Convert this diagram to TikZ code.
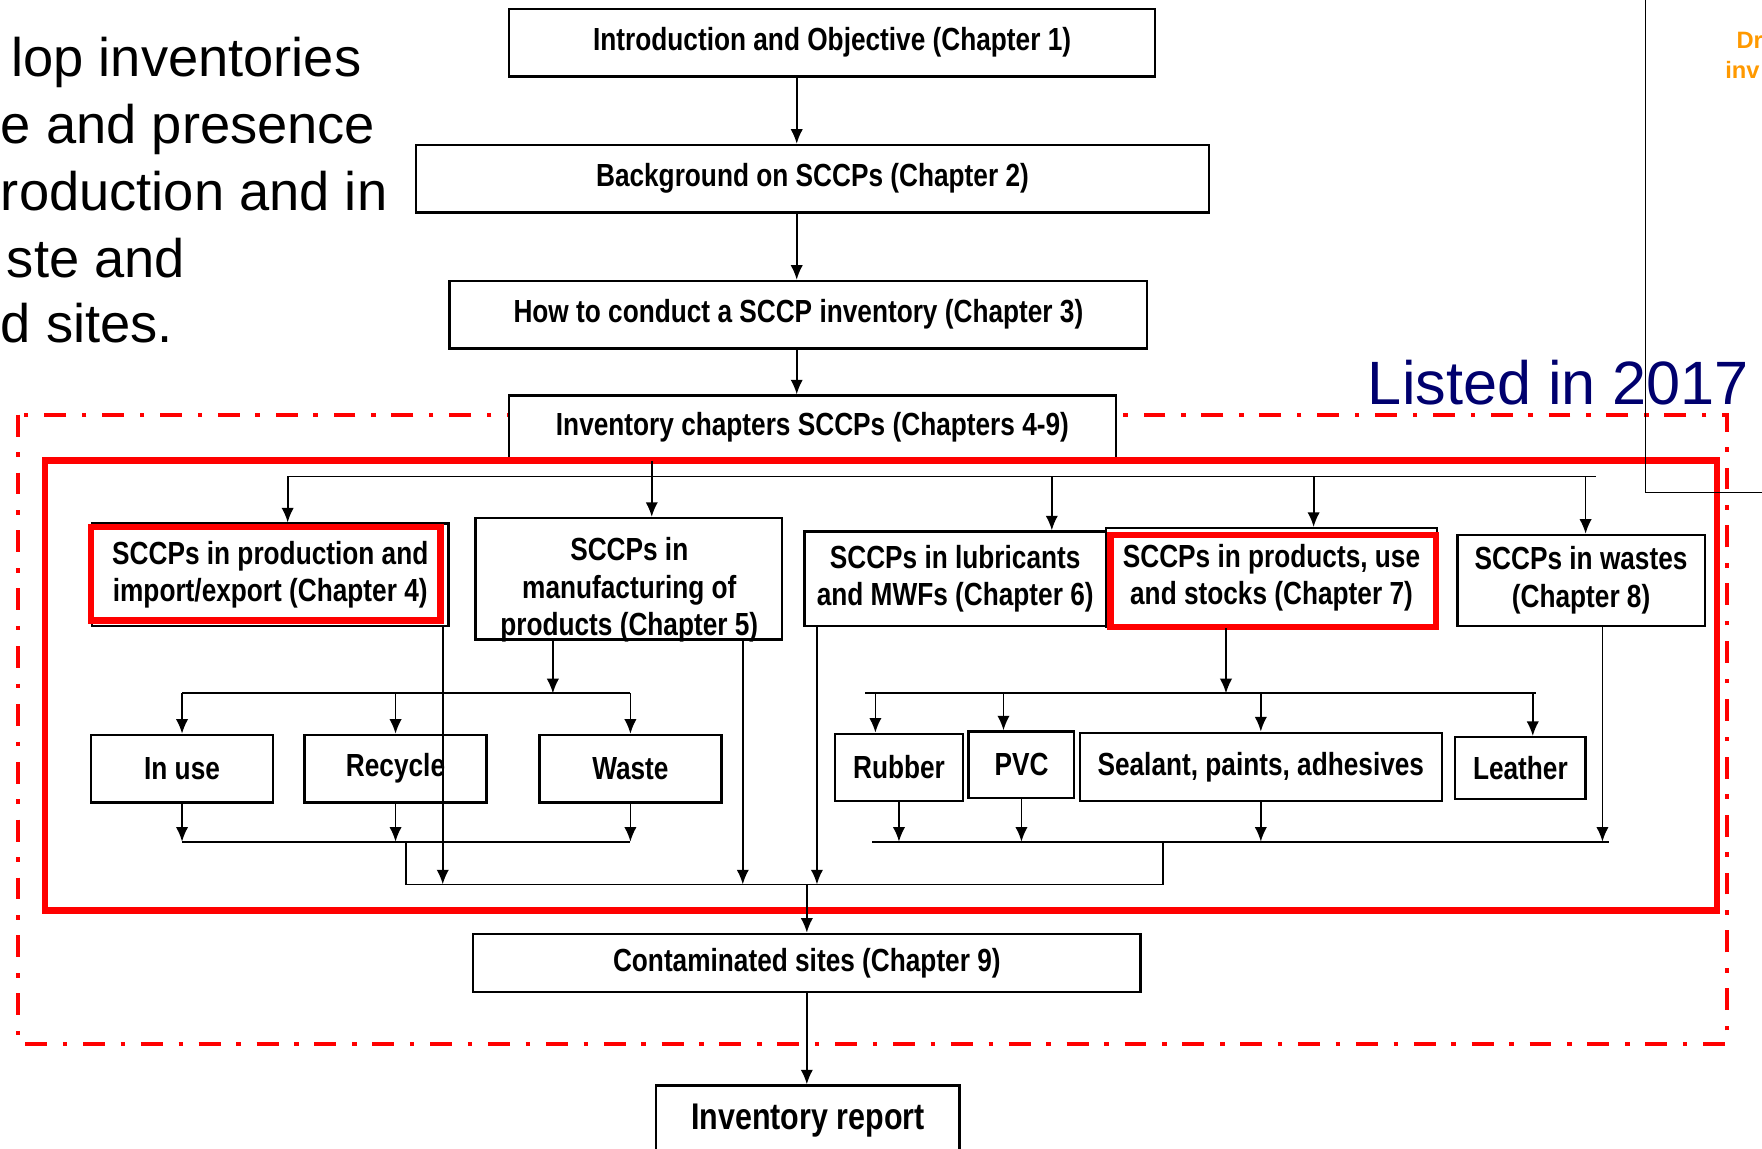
\documentclass[tikz,border=0pt]{standalone}
\usepackage{fontspec}
\setmainfont{Liberation Sans}
\newfontfamily\narrowfont[FakeStretch=0.82]{Liberation Sans}
\usetikzlibrary{arrows.meta}
\definecolor{listblue}{RGB}{0,0,110}
\definecolor{draftorange}{RGB}{255,153,0}
\tikzset{
  box/.style={draw,fill=white,line width=1.2pt,inner sep=0pt,align=center,
    font={\narrowfont\bfseries\fontsize{16.2}{19}\selectfont}},
  leaf/.style={box,minimum height=1.2cm},
  arr/.style={-{Latex[length=2.6mm,width=2.2mm]},line width=0.9pt},
  bus/.style={line width=0.9pt},
  hilite/.style={draw=red,line width=3.4pt},
  bigtxt/.style={inner sep=0pt,font={\fontsize{27.5}{33}\selectfont}}
}
\begin{document}
\begin{tikzpicture}[x=0.02cm,y=-0.02cm]
\useasboundingbox (0,0) rectangle (1568,1022);
\clip (0,0) rectangle (1568,1022);
% slide text, cut at the frame
\node[bigtxt,anchor=base east] (goal1) at (322,68) {lop inventories};
\node[bigtxt,anchor=base west] (goal2) at (0.5,128) {e and presence};
\node[bigtxt,anchor=base west] (goal3) at (0.5,187) {roduction and in};
\node[bigtxt,anchor=base east] (goal4) at (165,247) {ste and};
\node[bigtxt,anchor=base west] (goal5) at (0.5,305) {d sites.};
\node[anchor=base west,inner sep=0pt,text=listblue,font={\fontsize{31}{37}\selectfont}] (listed) at (1217,360) {Listed in 2017};
\node[anchor=base west,inner sep=0pt,text=draftorange,font={\bfseries\fontsize{12}{14}\selectfont}] (draft1) at (1545,43) {Dr};
\node[anchor=base west,inner sep=0pt,text=draftorange,font={\bfseries\fontsize{12}{14}\selectfont}] (draft2) at (1535,70) {inv};

\draw[red,line width=2pt,dash pattern=on 0.39cm off 0.28cm on 0.08cm off 0.28cm] (16,369) rectangle (1537,929);

\node[box,minimum width=11.5cm,minimum height=1.2cm] (intro) at (740.5,38) {Introduction and Objective (Chapter 1)};
\node[box,minimum width=14.12cm,minimum height=1.2cm] (backgr) at (723,159) {Background on SCCPs (Chapter 2)};
\node[box,minimum width=12.42cm,minimum height=1.2cm] (howto) at (710.5,280) {How to conduct a SCCP inventory (Chapter 3)};
\node[box,minimum width=10.8cm,minimum height=1.14cm] (invch) at (723,380.5) {Inventory chapters SCCPs (Chapters 4-9)};
\coordinate (spine) at (709,0);
\draw[arr] (spine |- intro.south) -- (spine |- backgr.north);
\draw[arr] (spine |- backgr.south) -- (spine |- howto.north);
\draw[arr] (spine |- howto.south) -- (spine |- invch.north);

\draw[red,line width=3.4pt] (40,410) rectangle (1528,810);
\draw[line width=0.6pt] (1464,-10) rectangle (1600,438);

\node[box,minimum width=6.34cm,minimum height=1.82cm] (ch4) at (240.5,511.5) {SCCPs in production and\\import/export (Chapter 4)};
\draw[hilite] (81,469) rectangle (392,552);
\node[box,minimum width=5.46cm,minimum height=2.16cm] (ch5) at (559.5,515) {};
\node[inner sep=0pt,align=center,font={\narrowfont\bfseries\fontsize{16.2}{19}\selectfont}] (ch5txt) at (560,525) {SCCPs in\\manufacturing of\\products (Chapter 5)};
\node[box,minimum width=5.36cm,minimum height=1.68cm] (ch6) at (850,515) {SCCPs in lubricants\\and MWFs (Chapter 6)};
\node[box,minimum width=5.9cm,minimum height=1.76cm] (ch7) at (1131.5,514) {SCCPs in products, use\\and stocks (Chapter 7)};
\draw[hilite] (988,476) rectangle (1278,558);
\node[box,minimum width=4.4cm,minimum height=1.62cm] (ch8) at (1407,516.5) {SCCPs in wastes\\(Chapter 8)};

\node[leaf,minimum width=3.24cm] (inuse) at (162,684) {In use};
\node[leaf,minimum width=3.24cm] (recycle) at (352,684) {Recycle};
\node[leaf,minimum width=3.24cm] (waste) at (561,684) {Waste};
\node[leaf,minimum width=2.28cm] (rubber) at (800,683) {Rubber};
\node[leaf,minimum width=1.88cm,minimum height=1.18cm] (pvc) at (909,680.5) {PVC};
\node[leaf,minimum width=6.44cm,minimum height=1.22cm] (sealant) at (1122,682.5) {Sealant, paints, adhesives};
\node[leaf,minimum width=2.32cm,minimum height=1.1cm] (leather) at (1353,683.5) {Leather};

\node[box,minimum width=11.88cm,minimum height=1.04cm] (contam) at (718,857) {Contaminated sites (Chapter 9)};
\node[box,minimum width=5.4cm,minimum height=1.24cm,font={\narrowfont\bfseries\fontsize{18.8}{22}\selectfont}] (invrep) at (719,997) {Inventory report};

% split to the inventory chapters
\coordinate (t4) at (256,424);
\coordinate (t5) at (580,424);
\coordinate (busR) at (1420,424);
\draw[bus] (t4) -- (busR);
\draw[arr] (t4) -- (t4 |- ch4.north);
\draw[arr] (t5 |- invch.south) -- (t5 |- ch5.north);
\foreach \tp/\xx/\nd in {t6/936/ch6,t7/1169/ch7,t8/1411/ch8}{
  \coordinate (\tp) at (\xx,424);
  \draw[arr] (\tp) -- (\tp |- \nd.north);
}

% chapter 5 branch
\coordinate (m5) at (492,617);
\coordinate (lowL) at (0,749);
\draw[arr] (m5 |- ch5.south) -- (m5);
\draw[bus] (inuse.north |- m5) -- (waste.north |- m5);
\foreach \nd in {inuse,recycle,waste}{
  \draw[arr] (\nd.north |- m5) -- (\nd.north);
  \draw[arr] (\nd.south) -- (\nd.south |- lowL);
}
\draw[bus] (inuse.south |- lowL) -- (waste.south |- lowL);

% chapter 7 branch
\coordinate (m7) at (1091,617);
\coordinate (m7a) at (770,617);
\coordinate (m7b) at (1367,617);
\coordinate (lowR) at (776,749);
\coordinate (lowRb) at (1432,749);
\draw[arr] (m7 |- ch7.south) -- (m7);
\draw[bus] (m7a) -- (m7b);
\foreach \nd/\dx in {rubber/-0.42cm,pvc/-0.32cm,sealant/0cm,leather/0.22cm}
  \draw[arr] ([xshift=\dx]\nd.north |- m7) -- ([xshift=\dx]\nd.north);
\foreach \nd in {rubber,pvc,sealant}
  \draw[arr] (\nd.south) -- (\nd.south |- lowR);
\coordinate (c8) at (1426,749);
\draw[arr] (c8 |- ch8.south) -- (c8);
\draw[bus] (lowR) -- (lowRb);

% collector to chapter 9
\coordinate (gL) at (361,787);
\coordinate (gR) at (1035,787);
\draw[bus] (gL |- lowL) -- (gL) -- (gR) -- (gR |- lowR);
\coordinate (c4) at (394,787);
\coordinate (c5) at (661,787);
\coordinate (c6) at (727,787);
\draw[arr] (c4 |- ch4.south) -- (c4);
\draw[arr] (c5 |- ch5.south) -- (c5);
\draw[arr] (c6 |- ch6.south) -- (c6);
\draw[arr] (contam.north |- gL) -- (contam.north);
\draw[arr] (contam.south) -- (contam.south |- invrep.north);
\end{tikzpicture}
\end{document}
